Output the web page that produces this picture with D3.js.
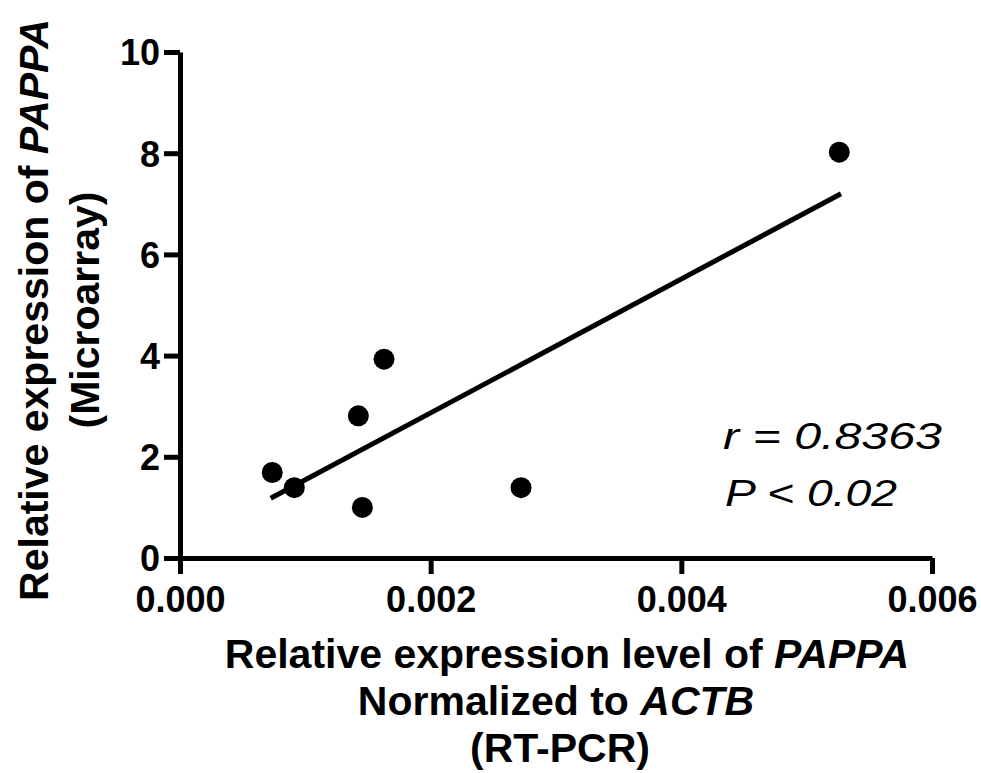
<!DOCTYPE html>
<html lang="en">
<head>
  <title>PAPPA correlation</title>
  <script src="https://cdn.jsdelivr.net/npm/d3@7"></script>
  <style>
    body { margin: 0; background: #fff; }
    text { font-family: "Liberation Sans", Arial, sans-serif; fill: #000; }
    .tick text { font-weight: bold; font-size: 36px; }
    .title { font-weight: bold; font-size: 41px; }
    .stat { font-style: italic; font-size: 36px; }
  </style>
</head>
<body>
  <div id="chart"></div>
  <script>
    var w = 981,
        h = 773;

    // RT-PCR (x) vs microarray (y)
    var rtpcr = [0.000736, 0.000912, 0.001423, 0.001455, 0.001628, 0.002721, 0.00526];
    var microarray = [1.69, 1.39, 2.81, 1.00, 3.93, 1.39, 8.02];
    // regression line end points
    var fitX = [0.000724, 0.005274];
    var fitY = [1.18, 7.20];
    var xTicks = [0, 0.002, 0.004, 0.006];
    var yTicks = [0, 2, 4, 6, 8, 10];

    var svg = d3.select("#chart")
      .append("svg")
      .attr("width", w)
      .attr("height", h);

    var x = d3.scaleLinear().domain([0, 0.006]).range([180, 932]);
    var y = d3.scaleLinear().domain([0, 10]).range([558, 52]);

    // axes
    var xAxis = svg.append("g")
      .attr("transform", "translate(0," + y(0) + ")")
      .call(d3.axisBottom(x).tickValues(xTicks).tickFormat(d3.format(".3f")).tickSize(16).tickPadding(11).tickSizeOuter(0));
    var yAxis = svg.append("g")
      .attr("transform", "translate(" + x(0) + ",0)")
      .call(d3.axisLeft(y).tickValues(yTicks).tickFormat(d3.format("d")).tickSize(16).tickPadding(4).tickSizeOuter(0));

    [xAxis, yAxis].forEach(function(g) {
      g.select(".domain").attr("stroke", "#000").attr("stroke-width", 5);
      g.selectAll(".tick line").attr("stroke", "#000").attr("stroke-width", 5);
    });
    xAxis.selectAll(".tick text").attr("dy", "0.75em");
    yAxis.selectAll(".tick text").attr("dy", "0.36em");

    // fit line
    var line = d3.line()
      .x(function(d) { return x(d[0]); })
      .y(function(d) { return y(d[1]); });
    svg.append("path")
      .datum(d3.zip(fitX, fitY))
      .attr("d", line)
      .attr("fill", "none")
      .attr("stroke", "#000")
      .attr("stroke-width", 5);

    // points
    svg.selectAll(".dot")
      .data(d3.zip(rtpcr, microarray))
      .enter()
      .append("circle")
      .attr("class", "dot")
      .attr("cx", function(d) { return x(d[0]); })
      .attr("cy", function(d) { return y(d[1]); })
      .attr("r", 10.5)
      .attr("fill", "#000");

    // x title
    var xt = svg.append("text").attr("class", "title").attr("text-anchor", "middle");
    var l1 = xt.append("tspan").attr("x", 567).attr("y", 668);
    l1.append("tspan").text("Relative expression level of ");
    l1.append("tspan").attr("font-style", "italic").text("PAPPA");
    var l2 = xt.append("tspan").attr("x", 556).attr("y", 715);
    l2.append("tspan").text("Normalized to ");
    l2.append("tspan").attr("font-style", "italic").text("ACTB");
    xt.append("tspan").attr("x", 560).attr("y", 762).text("(RT-PCR)");

    // y title
    var yt = svg.append("text").attr("class", "title").attr("text-anchor", "middle")
      .attr("transform", "translate(0,310) rotate(-90)");
    var m1 = yt.append("tspan").attr("x", 0).attr("y", 48);
    m1.append("tspan").text("Relative expression of ");
    m1.append("tspan").attr("font-style", "italic").text("PAPPA");
    yt.append("tspan").attr("x", 0).attr("y", 99).text("(Microarray)");

    // stats
    svg.append("text").attr("class", "stat").attr("x", 723).attr("y", 449)
      .attr("textLength", 219).attr("lengthAdjust", "spacingAndGlyphs").text("r = 0.8363");
    svg.append("text").attr("class", "stat").attr("x", 725).attr("y", 506)
      .attr("textLength", 172).attr("lengthAdjust", "spacingAndGlyphs").text("P < 0.02");
  </script>
</body>
</html>
